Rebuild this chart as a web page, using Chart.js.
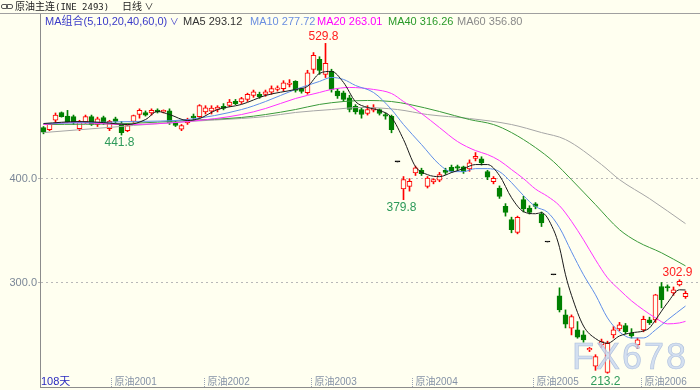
<!DOCTYPE html>
<html>
<head>
<meta charset="utf-8">
<script src="https://cdn.jsdelivr.net/npm/chart.js@4.4.1/dist/chart.umd.min.js"></script>
<style>
  body { margin: 0; background: #fffff0; }
  #wrap { position: relative; width: 700px; height: 390px; background: #fffff0; overflow: hidden;
          font-family: "Liberation Sans", "Noto Sans CJK SC", sans-serif; }
  #hdr { position: absolute; left: 0; top: 0; width: 700px; height: 13px; border-bottom: 1px solid #a0a0a0;
         font-size: 10px; line-height: 13px; color: #222; white-space: nowrap; }
  #hdr .ico { position: absolute; top: 4px; width: 5px; height: 3px; border: 1px solid #555; border-radius: 2px; }
  #hdr .mono { font-family: "DejaVu Sans Mono", monospace; font-size: 9px; }
  .leg { position: absolute; top: 15px; font-size: 11px; line-height: 13px; white-space: nowrap; }
  #mark { position: absolute; left: 572px; top: 339px; font-size: 36px; line-height: 36px; letter-spacing: 2px;
          color: rgba(200, 215, 240, 0.8); -webkit-text-stroke: 0.6px rgba(150, 172, 212, 0.7); }
  canvas { position: absolute; left: 0; top: 0; }
</style>
</head>
<body>
<div id="wrap">
  <canvas id="kline" width="700" height="390"></canvas>
  <div id="hdr">
    <span class="ico" style="left:1px"></span><span class="ico" style="left:6px"></span>
    <span style="position:absolute;left:15px">原油主连<span class="mono">(INE 2493)</span></span>
    <span style="position:absolute;left:122px">日线<span style="font-size:9px"> ∨</span></span>
  </div>
  <div class="leg" style="left:45px;color:#3a3ac8">MA组合(5,10,20,40,60,0)<span style="font-size:9px"> ∨</span></div>
  <div class="leg" id="l5" style="left:183px;color:#333"></div>
  <div class="leg" id="l10" style="left:250px;color:#6b8fe0"></div>
  <div class="leg" id="l20" style="left:317px;color:#ff00ff"></div>
  <div class="leg" id="l40" style="left:388px;color:#2a9a2a"></div>
  <div class="leg" id="l60" style="left:457px;color:#8a8a8a"></div>
  <div id="mark">FX678</div>
</div>
<script>
// daily candles, 108 days
const opens = [449, 447, 456, 463.5, 460, 459.5, 448, 454.5, 459.5, 452, 458.5, 448, 457.5, 452, 446, 454.8, 461.5, 463.5, 463, 465.8,
  464, 465, 454, 447.5, 453.5, 460, 459.5, 464, 464.7, 466.3, 469.5, 470.2, 474.3, 473.5, 476, 479.8, 480.8, 480.8, 483, 485.6,
  486.3, 490.4, 493.3, 486.3, 482.4, 504.8, 514.4, 500, 503, 484, 482.4, 477.6, 469.5, 466.3, 462.5, 465.7, 466.3, 461.5, 459.9, 416,
  390, 392.6, 405.5, 408, 392.6, 396.8, 398.4, 408, 410.9, 411.5, 411.2, 409.3, 419.5, 418.9, 406.7, 397, 391, 373.4, 360.6, 348.4,
  379.8, 371.8, 375.7, 366, 339.2, 307.7, 287.5, 269.2, 256.4, 254.8, 250, 235.6, 220, 240.4, 214, 250, 255.8, 258.9, 251.6, 240.4,
  254.8, 264.4, 264.4, 296.5, 296.5, 290.2, 298, 286.8];
const highs = [450, 453, 463, 464, 465.5, 461, 456, 461, 461, 459, 460, 456, 459, 455, 453, 461, 467, 465, 467, 467,
  466, 467, 455, 452, 458, 462, 471, 470, 470, 470, 472, 476, 476, 478, 482, 485, 483, 485, 489, 489,
  494, 495, 494, 487, 504, 521, 517, 529.8, 505, 486, 484, 480, 471, 468, 470, 471, 467, 463, 461, 416,
  402, 400, 412, 410, 402, 400, 406, 410, 413, 413, 412, 418, 425, 421, 408, 402, 393, 376, 363, 364,
  383, 374, 377, 368, 339.2, 307.7, 295.2, 274, 269.2, 262.8, 254, 238, 231, 246, 244, 258, 262, 261, 256, 247,
  268, 267, 289, 300.3, 298, 296, 302.9, 292];
const lows = [443, 446, 454, 459, 453.8, 452, 446, 453, 451, 450, 452, 446, 453, 441.8, 445, 454, 458, 460, 461, 463,
  463, 452, 450, 446, 452, 456, 458, 462, 462, 464, 466, 469, 471, 472, 474, 478, 477, 479, 481, 484,
  484, 488, 483, 482, 481, 501, 500, 497, 483, 477, 474, 464, 462, 458, 461, 464, 461, 457, 444, 416,
  379.8, 388, 403, 403, 391, 395, 397, 404, 406, 408, 405, 407, 417, 413, 399, 395, 381, 364, 348, 347,
  368, 366, 371, 354, 339.2, 307.7, 272, 256.7, 250, 246.8, 243, 234, 216, 238, 213.2, 247, 254, 251, 247, 237,
  253, 260, 262, 276, 292, 288, 297, 285];
const closes = [444.5, 452, 461, 459.5, 454.5, 453.5, 454, 459.5, 452, 457.5, 454, 455, 455, 444, 451, 460.5, 465.5, 461, 465.5, 464,
  465.5, 453.5, 451, 451, 456.7, 458.5, 470, 468, 467.7, 468.6, 467.3, 473.4, 472, 476.8, 480.8, 483.4, 478.6, 483.4, 486.3, 487.2,
  492, 491.7, 484.6, 483.7, 501.6, 518.3, 503.8, 510.6, 485.6, 479.3, 476, 466.3, 464.1, 461.5, 466.3, 468, 462.5, 459.9, 447.1, 416,
  399, 397.4, 410.3, 404.8, 400.6, 399, 403.8, 406, 407.7, 410, 406.7, 415.1, 421.4, 415, 401.3, 400.3, 383, 367.6, 351, 362.8,
  370.9, 367.6, 373.4, 357.4, 339.2, 307.7, 274, 260.3, 267.6, 247.8, 245.2, 237.2, 229.2, 243.5, 242, 254.8, 259.6, 253.2, 249, 245.2,
  265, 261.8, 288.5, 283.7, 295, 293.3, 301.5, 290];

// moving averages: [day index, value]
const ma5 = [[0, 452.9], [6, 454.8], [10, 453.8], [14, 451.9], [17, 456.7], [19, 464.4], [21, 461.5], [24, 455.8], [26, 457.7],
  [29, 466.3], [33, 471.2], [37, 479.8], [42, 485.6], [44, 488.5], [46, 501], [48, 502.9], [50, 492.3], [52, 474], [54, 468.3],
  [56, 465.4], [58, 458.7], [60, 437.5], [62, 411.5], [64, 403.8], [66, 401.9], [68, 405.8], [70, 409.6], [72, 413.5], [74, 413.5],
  [76, 402.9], [78, 381.7], [80, 368.3], [82, 366.3], [83, 367.3], [85, 351], [86, 334], [87, 307.7], [88, 288], [90, 258.5],
  [92, 246.5], [94, 242], [96, 249], [98, 252], [100, 253.8], [101, 256.7], [102, 264.4], [104, 280.8], [106, 293.3], [107, 293.12]];
const ma10 = [[0, 452.9], [15, 454.8], [24, 456.7], [33, 466.3], [37, 474], [42, 485.6], [46, 493.3], [48, 497.1], [50, 495.2],
  [52, 489.4], [55, 482.7], [58, 466.3], [60, 451.9], [63, 432.7], [66, 413.5], [68, 406.7], [70, 406.7], [72, 409.6], [74, 409.6],
  [76, 406.7], [78, 396.2], [80, 383.7], [82, 373.1], [84, 367.8], [86, 352.9], [88, 329.8], [90, 307.7], [92, 288.5], [94, 266.3],
  [96, 252.9], [98, 247.1], [100, 247.1], [102, 254.8], [104, 264.4], [107, 277.72]];
const ma20 = [[0, 451.9], [5, 453.8], [14, 451.9], [24, 454.8], [33, 461.5], [37, 467.3], [42, 476.9], [46, 482.7], [48, 485.6],
  [51, 487.5], [55, 485.6], [58, 481.7], [60, 474], [63, 462.5], [66, 449], [69, 435.6], [72, 426.9], [74, 423.1], [76, 417.3],
  [78, 408.7], [80, 400], [82, 390], [84, 383], [86, 374], [88, 359], [90, 341.3], [92, 322.1], [94, 304.8], [96, 293.3],
  [98, 282.7], [100, 274], [102, 266.3], [104, 260.6], [106, 261.5], [107, 263.01]];
const ma40 = [[0, 451.9], [14, 452.9], [24, 455.8], [33, 458.7], [37, 461.5], [42, 466.3], [46, 471.2], [50, 474], [54, 475],
  [58, 474], [61, 471.2], [66, 464.4], [71, 456.7], [75, 451.9], [78, 444.2], [82, 429.8], [85, 416.3], [88, 399], [92, 375],
  [96, 351], [99, 339.4], [103, 328.8], [107, 316.26]];
const ma60 = [[0, 444.2], [15, 451], [24, 454.8], [33, 457.7], [37, 459.6], [42, 463.5], [48, 466.3], [53, 468.3], [59, 466.3],
  [64, 461.5], [71, 457.7], [78, 451.9], [83, 444.2], [87, 437.5], [93, 413.5], [96, 399], [101, 380.8], [107, 356.8]];

const xTickPos = [11.3, 26.8, 44.6, 61.4, 81.6, 99.6];
const xTickLabels = ["原油2001", "原油2002", "原油2003", "原油2004", "原油2005", "原油2006"];
const yTicks = [300, 400];
const highMarks = [47, 106];
const lowMarks = [13, 60, 94];

const UP = "#ff0000", DOWN = "#008000", FLAT = "#000000", BG = "#fffff0";
const days = opens.map((_, i) => i);
const colorOf = i => closes[i] > opens[i] ? UP : (closes[i] < opens[i] ? DOWN : FLAT);

document.getElementById("l5").textContent = "MA5 293.12";
document.getElementById("l10").textContent = "MA10 277.72";
document.getElementById("l20").textContent = "MA20 263.01";
document.getElementById("l40").textContent = "MA40 316.26";
document.getElementById("l60").textContent = "MA60 356.80";

const maLine = (pts, color, order) => ({
  type: "line",
  data: pts.map(p => ({ x: p[0], y: p[1] })),
  borderColor: color,
  borderWidth: 1,
  pointRadius: 0,
  cubicInterpolationMode: "monotone",
  order: order
});

// labels, bottom axis line, x ticks
const extras = {
  id: "extras",
  afterDraw(chart) {
    const ctx = chart.ctx, a = chart.chartArea, x = chart.scales.x, y = chart.scales.y;
    ctx.save();
    ctx.strokeStyle = "#8c8c8c";
    ctx.lineWidth = 1;
    ctx.beginPath();
    ctx.moveTo(a.left, a.bottom + 0.5);
    ctx.lineTo(a.right, a.bottom + 0.5);
    ctx.stroke();

    ctx.font = '10px "Liberation Sans", "Noto Sans CJK SC"';
    ctx.textBaseline = "alphabetic";
    ctx.textAlign = "left";
    for (let k = 0; k < xTickPos.length; k++) {
      const px = Math.round(x.getPixelForValue(xTickPos[k])) + 0.5;
      ctx.fillStyle = "#9aa4b4";
      for (let d = 378; d < 387; d += 2) ctx.fillRect(px - 0.5, d, 1, 1);
      ctx.fillStyle = "#8592a6";
      ctx.fillText(xTickLabels[k], px + 3, 385);
    }
    ctx.font = '11px "Liberation Sans", "Noto Sans CJK SC"';
    ctx.fillStyle = "#2a2ac0";
    ctx.fillText(days.length + "天", a.left + 1, 385);

    ctx.font = '12px "Liberation Sans"';
    ctx.textAlign = "center";
    ctx.fillStyle = "#ff2020";
    ctx.textBaseline = "bottom";
    highMarks.forEach(i => ctx.fillText(highs[i].toFixed(1), x.getPixelForValue(i) - 2, y.getPixelForValue(highs[i]) - 1));
    ctx.fillStyle = "#2e9a5a";
    ctx.textBaseline = "top";
    lowMarks.forEach(i => ctx.fillText(lows[i].toFixed(1), x.getPixelForValue(i) - 2, y.getPixelForValue(lows[i]) + 2));
    ctx.restore();
  }
};

new Chart(document.getElementById("kline"), {
  type: "bar",
  data: {
    datasets: [
      maLine(ma5, "#1a1a1a", 0),
      maLine(ma10, "#5f8ee8", 0),
      maLine(ma20, "#ff33ff", 0),
      maLine(ma40, "#3a9a3a", 0),
      maLine(ma60, "#a6a6a6", 0),
      {
        type: "bar",
        data: days.map(i => ({ x: i, y: [opens[i], closes[i]] })),
        backgroundColor: days.map(i => closes[i] > opens[i] ? BG : colorOf(i)),
        borderColor: days.map(colorOf),
        borderWidth: 1,
        borderSkipped: false,
        barThickness: 5,
        minBarLength: 1,
        grouped: false,
        order: 2
      },
      {
        type: "bar",
        data: days.map(i => ({ x: i, y: [lows[i], highs[i]] })),
        backgroundColor: days.map(colorOf),
        barThickness: 1,
        grouped: false,
        order: 3
      }
    ]
  },
  options: {
    responsive: false,
    animation: false,
    events: [],
    layout: { padding: { top: 14, bottom: 3, left: 0, right: 0 } },
    plugins: { legend: { display: false }, tooltip: { enabled: false } },
    scales: {
      x: { type: "linear", offset: false, min: -0.5 - 0.5 / 6, max: 109.5 - 0.5 / 6, display: false, grid: { offset: false } },
      y: {
        type: "linear",
        position: "left",
        min: 200,
        max: 558,
        afterFit(s) { s.width = 40; s.paddingTop = 0; s.paddingBottom = 0; },
        afterBuildTicks(s) { s.ticks = yTicks.map(v => ({ value: v })); },
        ticks: {
          callback: v => v.toFixed(1),
          color: "#7b8797",
          font: { family: "Liberation Sans", size: 11 },
          padding: 1
        },
        grid: { color: "#b8b8b8", tickLength: 2, tickColor: "#b8b8b8" },
        border: { display: true, color: "#8c8c8c", dash: [2, 3] }
      }
    }
  },
  plugins: [extras]
});
</script>
</body>
</html>
